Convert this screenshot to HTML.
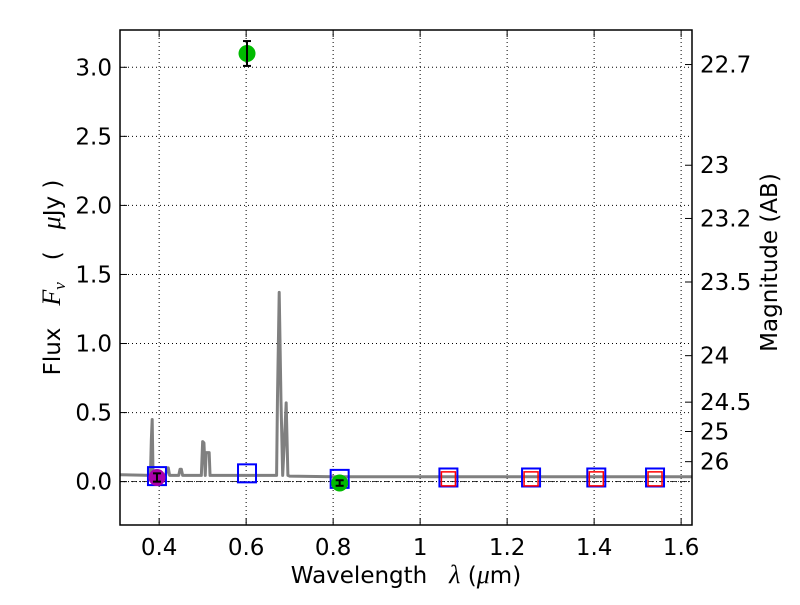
<!DOCTYPE html>
<html><head><meta charset="utf-8"><style>
body{margin:0;background:#fff}
svg{font-family:"DejaVu Sans","Liberation Sans",sans-serif}
.pre{white-space:pre}
</style></head><body>
<svg id="c" width="800" height="600" xmlns="http://www.w3.org/2000/svg"></svg>
<script>
const xTicks=[0.4,0.6,0.8,1.0,1.2,1.4,1.6];
const xTickLabels=["0.4","0.6","0.8","1","1.2","1.4","1.6"];
const yTicks=[0,0.5,1.0,1.5,2.0,2.5,3.0];
const yTickLabels=["0.0","0.5","1.0","1.5","2.0","2.5","3.0"];
const magTicks=[22.7,23,23.2,23.5,24,24.5,25,26];
const magTickLabels=["22.7","23","23.2","23.5","24","24.5","25","26"];
const specWave=[0.31,0.38,0.382,0.384,0.386,0.415,0.418,0.421,0.424,0.445,0.448,0.451,0.454,0.497,0.5,0.503,0.506,0.508,0.51,0.515,0.517,0.52,0.6,0.67,0.672,0.676,0.68,0.684,0.688,0.692,0.696,0.7,0.8,1.0,1.2,1.4,1.625];
const specFlux=[0.05,0.045,0.3,0.45,0.045,0.045,0.1,0.1,0.045,0.045,0.09,0.09,0.045,0.045,0.29,0.28,0.045,0.21,0.21,0.21,0.045,0.045,0.045,0.045,0.6,1.37,0.6,0.045,0.3,0.57,0.045,0.04,0.035,0.035,0.035,0.035,0.035];
const obsWave=[0.395,0.602,0.815];
const obsFlux=[0.03,3.10,-0.01];
const obsErr=[0.03,0.09,0.02];
const obsColor=["#aa00aa","#00bb00","#00bb00"];
const modelWave=[0.395,0.602,0.815,1.065,1.255,1.405,1.54];
const modelFlux=[0.04,0.06,0.02,0.03,0.03,0.03,0.03];
const predWave=[1.065,1.255,1.405,1.54];
const predFlux=[0.02,0.02,0.02,0.02];

const L=120,R=692,T=30,B=525,xmin=0.31,xmax=1.625,ymin=-0.314,ymax=3.27;
const sx=v=>L+(v-xmin)/(xmax-xmin)*(R-L);
const sy=v=>B-(v-ymin)/(ymax-ymin)*(B-T);
const svg=document.getElementById('c');const NS="http://www.w3.org/2000/svg";
function mk(t,a,p){const e=document.createElementNS(NS,t);for(const k in a)e.setAttribute(k,a[k]);(p||svg).appendChild(e);return e;}
xTicks.forEach((v,i)=>{
 const g=mk('line',{x1:sx(v),x2:sx(v),y1:T,y2:B,stroke:'#000','stroke-width':1,'stroke-dasharray':'1,3'});
 
 
 mk('line',{x1:sx(v),x2:sx(v),y1:B,y2:B-7,stroke:'#000'});mk('line',{x1:sx(v),x2:sx(v),y1:T,y2:T+7,stroke:'#000'});
 const t=mk('text',{x:sx(v),y:B+30,'text-anchor':'middle','font-size':23});t.textContent=xTickLabels[i];
 
 
});
yTicks.forEach((v,i)=>{
 const g=mk('line',{x1:L,x2:R,y1:sy(v),y2:sy(v),stroke:'#000','stroke-width':1,'stroke-dasharray':'1,3'});
 
 
 mk('line',{x1:L,x2:L+7,y1:sy(v),y2:sy(v),stroke:'#000'});
 const t=mk('text',{x:L-8,y:sy(v)+8,'text-anchor':'end','font-size':23});t.textContent=yTickLabels[i];
 
 
});
magTicks.forEach((m,i)=>{
 const f=Math.pow(10,(23.9-m)/2.5);const y=sy(f);
 mk('line',{x1:R,x2:R-7,y1:y,y2:y,stroke:'#000'});
 const t=mk('text',{x:R+8,y:y+8,'font-size':23});t.textContent=magTickLabels[i];
 
 
});
const z=mk('line',{x1:L,x2:R,y1:sy(0),y2:sy(0),stroke:'#000','stroke-dasharray':'6,2,1,2','stroke-width':0.8});


const sp=mk('polyline',{points:specWave.map((w,i)=>sx(w)+','+sy(specFlux[i])).join(' '),fill:'none',stroke:'#808080','stroke-width':3,'stroke-linejoin':'round'});


modelWave.forEach((w,i)=>{
 const r=mk('rect',{x:sx(w)-9,y:sy(modelFlux[i])-9,width:18,height:18,fill:'none',stroke:'#0000ff','stroke-width':2});
 
 
});
predWave.forEach((w,i)=>{
 const r=mk('rect',{x:sx(w)-7,y:sy(predFlux[i])-7,width:14,height:14,fill:'none',stroke:'#ff0000','stroke-width':1.5});
 
 
});
obsWave.forEach((w,i)=>{
 const c=mk('circle',{cx:sx(w),cy:sy(obsFlux[i]),r:8.5,fill:obsColor[i]});
 
 
 const y1=sy(obsFlux[i]+obsErr[i]),y2=sy(obsFlux[i]-obsErr[i]);
 mk('line',{x1:sx(w),x2:sx(w),y1:y1,y2:y2,stroke:'#000','stroke-width':2});
 mk('line',{x1:sx(w)-4,x2:sx(w)+4,y1:y1,y2:y1,stroke:'#000','stroke-width':2});
 mk('line',{x1:sx(w)-4,x2:sx(w)+4,y1:y2,y2:y2,stroke:'#000','stroke-width':2});
});
const fr=mk('rect',{x:L,y:T,width:R-L,height:B-T,fill:'none',stroke:'#000','stroke-width':1.5});


const xl=mk('text',{x:(L+R)/2,y:583,'text-anchor':'middle','font-size':23,'class':'pre'});
xl.innerHTML='Wavelength   <tspan font-style="italic" font-family="Liberation Serif" font-size="26">λ</tspan> (<tspan font-style="italic" font-family="Liberation Serif" font-size="26">μ</tspan>m)';


const yl=mk('text',{x:0,y:0,'text-anchor':'middle','font-size':23,transform:`translate(60,${(T+B)/2}) rotate(-90)`,'class':'pre'});
yl.innerHTML='Flux   <tspan font-style="italic" font-family="Liberation Serif" font-size="26">F</tspan><tspan font-style="italic" font-family="Liberation Serif" font-size="17" dy="5">ν</tspan><tspan dy="-5">   (   </tspan><tspan font-style="italic" font-family="Liberation Serif" font-size="26">μ</tspan>Jy )';


const yr=mk('text',{x:0,y:0,'text-anchor':'middle','font-size':23,transform:`translate(777,${(T+B)/2-15}) rotate(-90)`});
yr.textContent='Magnitude (AB)';


</script>
</body></html>
